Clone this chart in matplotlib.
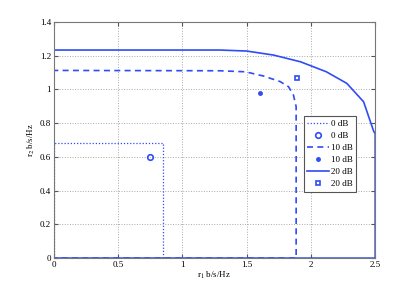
import matplotlib
matplotlib.use("Agg")
import matplotlib.pyplot as plt

plt.rcParams['font.family'] = ['Liberation Serif', 'DejaVu Serif']
plt.rcParams['mathtext.fontset'] = 'stix'

blue = '#2f4cf5'

# 0 dB boundary
r1_0 = [0, 0, 0.851, 0.851, 0]
r2_0 = [0, 0.682, 0.682, 0, 0]
# 10 dB boundary
r1_10 = [0, 0, 1.29, 1.49, 1.63, 1.76, 1.825, 1.864, 1.885, 1.885, 0]
r2_10 = [0, 1.113, 1.111, 1.105, 1.08, 1.047, 1.017, 0.967, 0.898, 0, 0]
# 20 dB boundary
r1_20 = [0, 0, 1.29, 1.50, 1.71, 1.92, 2.12, 2.28, 2.41, 2.49, 2.50, 2.50, 0]
r2_20 = [0, 1.234, 1.234, 1.228, 1.204, 1.164, 1.105, 1.036, 0.927, 0.749, 0.74, 0, 0]
# operating points
pt0 = (0.75, 0.60)
pt10 = (1.60, 0.98)
pt20 = (1.89, 1.066)

xticks = [0, 0.5, 1, 1.5, 2, 2.5]
xlabels = ['0', '0.5', '1', '1.5', '2', '2.5']
yticks = [0, 0.2, 0.4, 0.6, 0.8, 1, 1.2, 1.4]
ylabels = ['0', '0.2', '0.4', '0.6', '0.8', '1', '1.2', '1.4']

fig = plt.figure(figsize=(4.15, 2.9), dpi=100)
ax = fig.add_axes([0.130, 0.110, 0.774, 0.814])

ax.plot(r1_0, r2_0, linestyle=(0, (1, 1.5)), color=blue, lw=0.9, label='0 dB')
ax.plot(*pt0, marker='o', ls='none', mfc='none', mec=blue, ms=4, mew=1.2, label='0 dB')
ax.plot(r1_10, r2_10, linestyle=(0, (3.6, 2.6)), color=blue, lw=1.2, label='10 dB')
ax.plot(*pt10, marker='.', ls='none', color=blue, ms=5, label='10 dB')
ax.plot(r1_20, r2_20, linestyle='-', color=blue, lw=1.2, label='20 dB')
ax.plot(*pt20, marker='s', ls='none', mfc='none', mec=blue, ms=3.5, mew=1.2, label='20 dB')

ax.set_xlim(0, 2.5)
ax.set_ylim(0, 1.4)
ax.set_xticks(xticks)
ax.set_xticklabels(xlabels)
ax.set_yticks(yticks)
ax.set_yticklabels(ylabels)
ax.tick_params(direction='in', length=3, labelsize=6.5, top=True, right=True, color='#555555', pad=2)
ax.grid(True, linestyle=':', color='#aaaaaa', lw=0.7)
for s in ax.spines.values():
    s.set_color('#777777')
    s.set_linewidth(0.8)

ax.set_xlabel(r'r$_1$ b/s/Hz', fontsize=6.5, labelpad=1)
ax.set_ylabel(r'r$_2$ b/s/Hz', fontsize=6.5, labelpad=2)

leg = ax.legend(loc='upper left', bbox_to_anchor=(0.778, 0.6), fontsize=6.5,
                handlelength=2.4, handletextpad=0.3, borderpad=0.35, labelspacing=0.42,
                fancybox=False, framealpha=1, edgecolor='#555555', borderaxespad=0)
leg.get_frame().set_linewidth(0.8)

fig.savefig('out.png', dpi=100)
